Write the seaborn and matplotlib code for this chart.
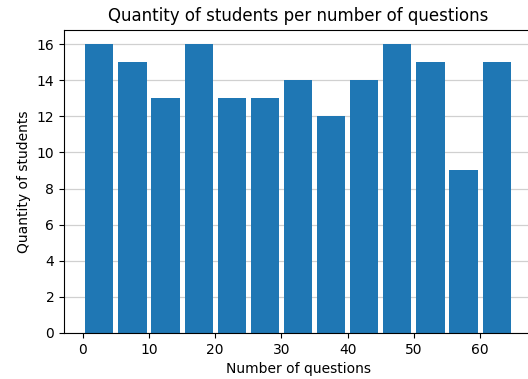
import numpy as np
import matplotlib
matplotlib.use('Agg')
import matplotlib.pyplot as plt
import seaborn as sns

# histogram bins (number of questions) and counts
bin_edges = [0, 5, 10, 15, 20, 25, 30, 35, 40, 45, 50, 55, 60, 65]
counts = [16, 15, 13, 16, 13, 13, 14, 12, 14, 16, 15, 9, 15]
bin_centers = [(a + b) / 2 for a, b in zip(bin_edges[:-1], bin_edges[1:])]

fig = plt.figure(figsize=(5.28, 3.79), dpi=100)
ax = fig.add_axes([0.1212, 0.1214, 0.8864, 0.8005])

sns.histplot(x=bin_centers, weights=counts, bins=bin_edges, shrink=0.85,
             color='#1f77b4', alpha=1, linewidth=0, ax=ax)

ax.set_axisbelow(True)
ax.yaxis.grid(True, color='#d0d0d0', linewidth=0.9)
ax.set_xticks([0, 10, 20, 30, 40, 50, 60])
ax.set_yticks(range(0, 17, 2))
ax.set_title('Quantity of students per number of questions', fontsize=12)
ax.set_xlabel('Number of questions')
ax.set_ylabel('Quantity of students')

fig.savefig('out.png', dpi=100)
